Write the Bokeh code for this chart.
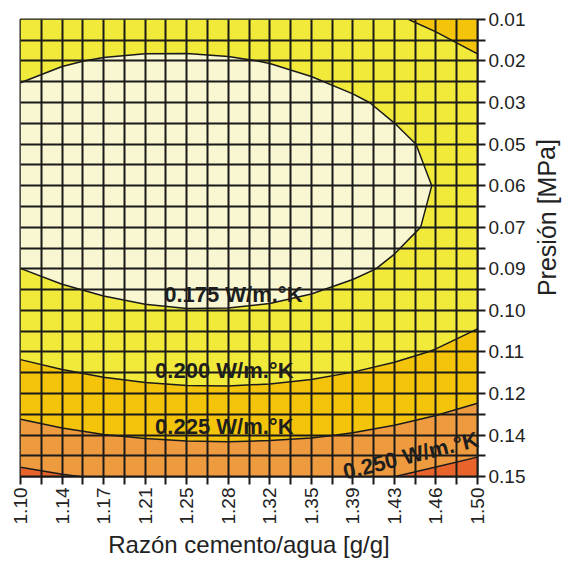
import numpy as np
from bokeh.plotting import figure
from bokeh.layouts import row
from bokeh.models import FixedTicker, Range1d
from bokeh.embed import file_html
from bokeh.resources import INLINE
from bokeh.core.properties import value

# Cement/water ratio (x) tick positions and labels
x_ticks = [1.10, 1.1364, 1.1727, 1.2091, 1.2455, 1.2818, 1.3182, 1.3545, 1.3909, 1.4273, 1.4636, 1.50]
x_labels = ["1.10", "1.14", "1.17", "1.21", "1.25", "1.28", "1.32", "1.35", "1.39", "1.43", "1.46", "1.50"]
x_minor = [1.1182, 1.1545, 1.1909, 1.2273, 1.2636, 1.3000, 1.3364, 1.3727, 1.4091, 1.4455, 1.4818]

# Pressure (y) tick positions and labels
y_ticks = [0.01, 0.0227, 0.0355, 0.0482, 0.0609, 0.0736, 0.0864, 0.0991, 0.1118, 0.1245, 0.1373, 0.15]
y_labels = ["0.01", "0.02", "0.03", "0.05", "0.06", "0.07", "0.09", "0.10", "0.11", "0.12", "0.14", "0.15"]
y_minor = [0.0164, 0.0291, 0.0418, 0.0545, 0.0673, 0.0800, 0.0927, 0.1055, 0.1182, 0.1309, 0.1436]

# Thermal conductivity [W/m.K] read at (pressure row, ratio column)
conductividad = [
    [0.1896, 0.1869, 0.1851, 0.1842, 0.1842, 0.1852, 0.1870, 0.1898, 0.1935, 0.1981, 0.2036, 0.2101],
    [0.1789, 0.1760, 0.1741, 0.1731, 0.1730, 0.1738, 0.1755, 0.1781, 0.1817, 0.1862, 0.1916, 0.1979],
    [0.1714, 0.1684, 0.1663, 0.1652, 0.1650, 0.1656, 0.1673, 0.1698, 0.1732, 0.1776, 0.1828, 0.1890],
    [0.1673, 0.1642, 0.1620, 0.1607, 0.1604, 0.1609, 0.1624, 0.1648, 0.1681, 0.1723, 0.1775, 0.1835],
    [0.1666, 0.1633, 0.1610, 0.1596, 0.1591, 0.1596, 0.1609, 0.1632, 0.1663, 0.1705, 0.1755, 0.1814],
    [0.1692, 0.1658, 0.1633, 0.1618, 0.1612, 0.1615, 0.1627, 0.1649, 0.1679, 0.1719, 0.1768, 0.1826],
    [0.1751, 0.1716, 0.1691, 0.1674, 0.1667, 0.1668, 0.1679, 0.1699, 0.1729, 0.1767, 0.1814, 0.1871],
    [0.1844, 0.1808, 0.1781, 0.1763, 0.1754, 0.1755, 0.1764, 0.1783, 0.1811, 0.1848, 0.1894, 0.1950],
    [0.1970, 0.1933, 0.1904, 0.1885, 0.1875, 0.1874, 0.1883, 0.1900, 0.1927, 0.1963, 0.2008, 0.2062],
    [0.2129, 0.2090, 0.2061, 0.2040, 0.2029, 0.2027, 0.2034, 0.2050, 0.2076, 0.2110, 0.2154, 0.2207],
    [0.2324, 0.2283, 0.2253, 0.2231, 0.2218, 0.2215, 0.2221, 0.2235, 0.2260, 0.2293, 0.2335, 0.2387],
    [0.2550, 0.2512, 0.2484, 0.2453, 0.2439, 0.2434, 0.2439, 0.2453, 0.2475, 0.2499, 0.2549, 0.2599],
]

levels = [0.15, 0.175, 0.200, 0.225, 0.250, 0.27]
level_names = ["0.175 W/m.°K", "0.200 W/m.°K", "0.225 W/m.°K", "0.250 W/m.°K"]
colors = ["#F9F7D2", "#F1EA3A", "#F4C40A", "#EE9A3F", "#E9642B"]

x_title = "Razón cemento/agua [g/g]"
y_title = "Presión [MPa]"

FONT = "Liberation Sans"
INK = "#1a1a1a"

p = figure(width=530, height=563, x_range=Range1d(1.10, 1.50), y_range=Range1d(0.15, 0.01),
           output_backend="svg", toolbar_location=None, y_axis_location="right",
           min_border_left=20, min_border_top=19, min_border_right=53, min_border_bottom=87)
p.contour(x=x_ticks, y=y_ticks, z=np.array(conductividad), levels=levels, fill_color=colors,
          line_color=INK, line_width=1.5)

for ax, ticks, minor, labels in [(p.xaxis[0], x_ticks, x_minor, x_labels),
                                 (p.yaxis[0], y_ticks, y_minor, y_labels)]:
    ax.ticker = FixedTicker(ticks=ticks, minor_ticks=minor)
    ax.major_label_overrides = dict(zip(ticks, labels))
    ax.major_tick_out = 8
    ax.minor_tick_out = 8
    ax.major_tick_in = 0
    ax.minor_tick_in = 0
    ax.major_tick_line_width = 2
    ax.minor_tick_line_width = 2
    ax.major_tick_line_color = INK
    ax.minor_tick_line_color = INK
    ax.axis_line_color = INK
    ax.axis_line_width = 2
    ax.major_label_text_font = FONT
    ax.major_label_text_font_size = "19px"
    ax.major_label_text_color = "#222222"
    ax.major_label_standoff = 3

xax = p.xaxis[0]
xax.major_label_orientation = np.pi / 2
xax.axis_label = x_title
xax.axis_label_text_font = FONT
xax.axis_label_text_font_size = "24px"
xax.axis_label_text_font_style = "normal"
xax.axis_label_text_color = "#222222"
xax.axis_label_standoff = 4

for g in (p.xgrid[0], p.ygrid[0]):
    g.grid_line_color = INK
    g.grid_line_width = 2
    g.minor_grid_line_color = INK
    g.minor_grid_line_width = 2
    g.level = "annotation"

p.outline_line_color = INK
p.outline_line_width = 2

# contour label anchors
lab_x = [1.2863, 1.2784, 1.2784, 1.4415]
lab_y = [0.0941, 0.1175, 0.1348, 0.1436]
lab_a = [0, 0, 0, 0.244]
r = p.text(x=lab_x, y=lab_y, text=level_names, angle=lab_a, text_font=value(FONT),
           text_font_style="bold", text_font_size="22px", text_color="#1e1e1e",
           text_align="center", text_baseline="middle")
r.level = "overlay"

# narrow side panel holding the vertical y-axis title (reads bottom to top)
side = figure(width=33, height=563, x_range=Range1d(0, 33), y_range=Range1d(563, 0),
              output_backend="svg", toolbar_location=None,
              x_axis_location=None, y_axis_location=None,
              min_border_left=0, min_border_right=0, min_border_top=0, min_border_bottom=0)
side.xgrid.visible = False
side.ygrid.visible = False
side.outline_line_color = None
side.text(x=[16], y=[244], text=[y_title], angle=[np.pi / 2], text_font=value(FONT),
          text_font_size="25px", text_color="#222222",
          text_align="center", text_baseline="alphabetic")

layout = row(p, side, spacing=0)
open("out.html", "w").write(file_html(layout, INLINE))
